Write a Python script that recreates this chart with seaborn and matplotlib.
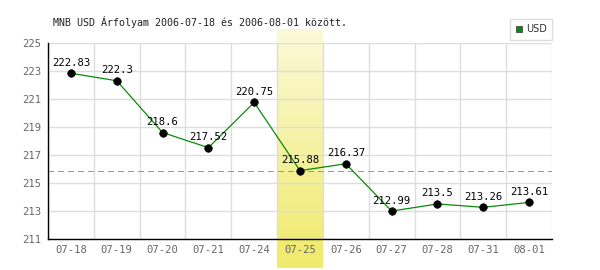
import numpy as np
import pandas as pd
import matplotlib
matplotlib.use("Agg")
import matplotlib.pyplot as plt
import seaborn as sns
from matplotlib.lines import Line2D
from matplotlib.colors import LinearSegmentedColormap

dates = ["07-18", "07-19", "07-20", "07-21", "07-24", "07-25", "07-26", "07-27", "07-28", "07-31", "08-01"]
rates = [222.83, 222.3, 218.6, 217.52, 220.75, 215.88, 216.37, 212.99, 213.5, 213.26, 213.61]
labels = ["222.83", "222.3", "218.6", "217.52", "220.75", "215.88", "216.37", "212.99", "213.5", "213.26", "213.61"]
yticks = [211, 213, 215, 217, 219, 221, 223, 225]
highlight = "07-25"
title = "MNB USD Árfolyam 2006-07-18 és 2006-08-01 között."

sns.set_style("white")
plt.rcParams['font.family'] = ['DejaVu Sans Mono', 'DejaVu Sans']

df = pd.DataFrame({"pos": np.arange(len(dates)), "rate": rates})

fig = plt.figure(figsize=(6, 2.7), dpi=100)
ax = fig.add_axes([0.08, 0.115, 0.84, 0.726])

# highlight gradient band
hi = dates.index(highlight)
cmap = LinearSegmentedColormap.from_list("yl", ["#fbf9d8", "#f0ea6a"])
grad = np.linspace(0, 1, 100).reshape(-1, 1)
ax.imshow(grad, cmap=cmap, aspect="auto", extent=(hi - 0.5, hi + 0.5, 208.93, 225.93),
          origin="upper", clip_on=False, zorder=0)

ax.axhline(rates[hi], color="#5cc45c", lw=1.0, ls=(0, (4, 3)), zorder=1, antialiased=False)

sns.lineplot(data=df, x="pos", y="rate", color="#0a8a0a", lw=0.9, ax=ax, zorder=3)
sns.scatterplot(data=df, x="pos", y="rate", color="black", s=30, edgecolor="black", ax=ax, zorder=4)

for x, y, t in zip(df["pos"], rates, labels):
    ax.annotate(t, (x, y), xytext=(0, 4), textcoords="offset points", ha="center", va="bottom",
                fontsize=7.6, color="black", zorder=5)

ax.set_xlim(-0.5, len(dates) - 0.5)
ax.set_ylim(211, 225)
ax.set_yticks(yticks)
ax.set_xticks(np.arange(len(dates)))
ax.set_xticklabels(dates)
ax.grid(False)
for v in np.arange(len(dates) + 1) - 0.5:
    ax.axvline(v, color="#dddddd", lw=1, zorder=0.5)
for t in yticks:
    ax.axhline(t, color="#dddddd", lw=1, zorder=0.5)
ax.tick_params(axis="both", which="both", length=0, labelsize=7.6, colors="#666666")
ax.tick_params(axis="x", pad=4)
ax.tick_params(axis="y", pad=5)
ax.set_xlabel("")
ax.set_ylabel("")
for s in ["top", "right"]:
    ax.spines[s].set_visible(False)
for s in ["left", "bottom"]:
    ax.spines[s].set_color("black")
    ax.spines[s].set_linewidth(1)
    ax.spines[s].set_zorder(6)

fig.text(53 / 600, 1 - 22 / 270, title, fontsize=7.2, color="#222222", va="center", ha="left")

handle = Line2D([], [], marker="s", color="#0a8a0a", ls="", markersize=5, markeredgecolor="#333333", markeredgewidth=0.5)
leg = fig.legend([handle], ["USD"], loc="upper right", bbox_to_anchor=(552 / 600, 1 - 19 / 270),
                 borderaxespad=0, frameon=True, fancybox=False, edgecolor="#dddddd", framealpha=1,
                 handlelength=0.8, handletextpad=0.3, borderpad=0.55,
                 prop={"family": "DejaVu Sans", "size": 7})
leg.get_frame().set_linewidth(1)
for txt in leg.get_texts():
    txt.set_color("#333333")

fig.savefig("out.png", dpi=100)
